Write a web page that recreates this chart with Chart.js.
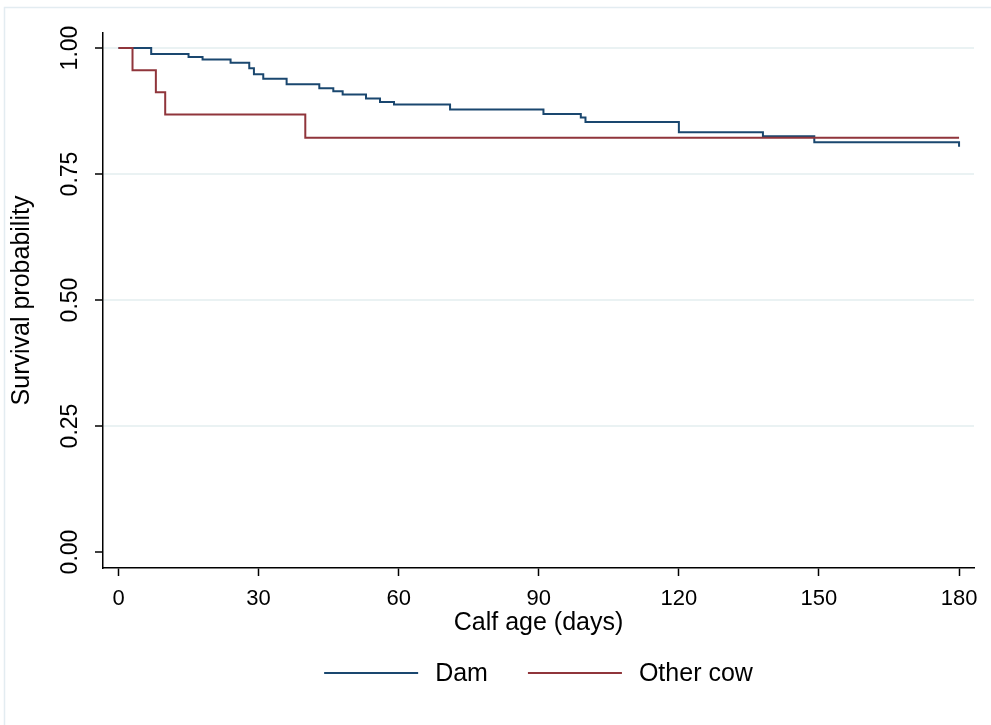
<!DOCTYPE html>
<html>
<head>
<meta charset="utf-8">
<script src="https://cdn.jsdelivr.net/npm/chart.js@4/dist/chart.umd.min.js"></script>
<style>
  body { margin: 0; background: #fff; }
  canvas { display: block; }
</style>
</head>
<body>
<canvas id="km_chart" width="991" height="725"></canvas>
<script>
// Kaplan-Meier step points (day of event, survival after the step)
const dam_days = [0, 7, 15, 18, 24, 28, 29, 31, 36, 43, 46, 48, 53, 56, 59, 71, 91, 99, 100, 120, 138, 149, 180];
const dam_surv = [1.0, 0.988, 0.982, 0.977, 0.971, 0.960, 0.948, 0.939, 0.928, 0.920, 0.914, 0.908, 0.900, 0.893, 0.888, 0.878, 0.869, 0.862, 0.853, 0.833, 0.825, 0.813, 0.804];

const other_days = [0, 3, 8, 10, 40, 180];
const other_surv = [1.0, 0.956, 0.912, 0.868, 0.822, 0.822];

const x_ticks = [0, 30, 60, 90, 120, 150, 180];
const y_ticks = [0, 0.25, 0.5, 0.75, 1];
const y_tick_labels = ['0.00', '0.25', '0.50', '0.75', '1.00'];
const series_names = ['Dam', 'Other cow'];

const FONT = "'Liberation Sans', Arial, sans-serif";
const BLUE = '#1a476f';
const RED = '#90353b';
const GRID = '#eaf2f3';

function to_points(days, surv) {
    return days.map((d, i) => ({x: d, y: surv[i]}));
}

// white background + the light frame Stata draws around the graph
const frame_plugin = {
    id: 'frame',
    beforeDraw(chart) {
        const c = chart.ctx;
        c.save();
        c.fillStyle = '#fff';
        c.fillRect(0, 0, chart.width, chart.height);
        c.strokeStyle = '#e3ecf1';
        c.lineWidth = 1.5;
        c.strokeRect(4.5, 7.5, chart.width + 10, chart.height + 10);
        c.restore();
    }
};

// y tick labels are rotated like in Stata
const ylabels_plugin = {
    id: 'ylabels',
    afterDraw(chart) {
        const c = chart.ctx;
        const ys = chart.scales.y;
        c.save();
        c.fillStyle = '#000';
        c.font = '23px ' + FONT;
        c.textAlign = 'center';
        c.textBaseline = 'middle';
        y_ticks.forEach((v, i) => {
            c.save();
            c.translate(71, ys.getPixelForValue(v));
            c.rotate(-Math.PI / 2);
            c.fillText(y_tick_labels[i], 0, 0);
            c.restore();
        });
        c.restore();
    }
};

// legend under the x axis title
const legend_plugin = {
    id: 'km_legend',
    afterDraw(chart) {
        const c = chart.ctx;
        const line_w = 94, gap = 17, item_gap = 40, y = 673;
        c.save();
        c.font = '25px ' + FONT;
        const items = chart.data.datasets.map(ds => ({
            label: ds.label, color: ds.borderColor, w: c.measureText(ds.label).width
        }));
        let total = 0;
        items.forEach((it, i) => { total += line_w + gap + it.w + (i ? item_gap : 0); });
        let x = (chart.chartArea.left + chart.chartArea.right) / 2 - total / 2;
        items.forEach((it, i) => {
            if (i) x += item_gap;
            c.strokeStyle = it.color;
            c.lineWidth = 2;
            c.beginPath();
            c.moveTo(x, y);
            c.lineTo(x + line_w, y);
            c.stroke();
            x += line_w + gap;
            c.fillStyle = '#000';
            c.textAlign = 'left';
            c.textBaseline = 'middle';
            c.fillText(it.label, x, y + 1);
            x += it.w;
        });
        c.restore();
    }
};

var km_chart = new Chart(document.getElementById('km_chart').getContext('2d'), {
    type: 'line',
    data: {
        datasets: [{
            label: series_names[0],
            data: to_points(dam_days, dam_surv),
            borderColor: BLUE,
            borderWidth: 2,
            stepped: true,
            order: 1
        }, {
            label: series_names[1],
            data: to_points(other_days, other_surv),
            borderColor: RED,
            borderWidth: 2,
            stepped: true,
            order: 0
        }]
    },
    options: {
        responsive: false,
        animation: false,
        devicePixelRatio: 1,
        elements: { point: { radius: 0 } },
        layout: { padding: { top: 33, right: 17, left: 0, bottom: 0 } },
        plugins: {
            legend: { display: false },
            tooltip: { enabled: false }
        },
        scales: {
            x: {
                type: 'linear',
                min: -3.32,
                max: 183.2,
                afterBuildTicks: (s) => { s.ticks = x_ticks.map(v => ({value: v})); },
                afterFit: (s) => { s.height = 157; },
                grid: {
                    drawOnChartArea: false,
                    tickLength: 8,
                    tickColor: '#000',
                    tickWidth: 1.5
                },
                border: { color: '#000', width: 1.5 },
                ticks: {
                    color: '#000',
                    font: { family: FONT, size: 22 },
                    padding: 10,
                    maxRotation: 0
                },
                title: {
                    display: true,
                    text: 'Calf age (days)',
                    color: '#000',
                    font: { family: FONT, size: 25, lineHeight: 1 },
                    padding: { top: 0, bottom: 89 }
                }
            },
            y: {
                type: 'linear',
                min: -0.0317,
                max: 1.0298,
                afterBuildTicks: (s) => { s.ticks = y_ticks.map(v => ({value: v})); },
                afterFit: (s) => { s.width = 103; },
                grid: {
                    color: (ctx) => (ctx.tick && ctx.tick.value === 0) ? 'rgba(0,0,0,0)' : GRID,
                    lineWidth: 2,
                    tickLength: 8,
                    tickColor: '#000',
                    tickWidth: 1.5
                },
                border: { color: '#000', width: 1.5 },
                ticks: { display: false },
                title: {
                    display: true,
                    text: 'Survival probability',
                    color: '#000',
                    font: { family: FONT, size: 25, lineHeight: 1 },
                    padding: { top: 10, bottom: 0 }
                }
            }
        }
    },
    plugins: [frame_plugin, ylabels_plugin, legend_plugin]
});
</script>
</body>
</html>
